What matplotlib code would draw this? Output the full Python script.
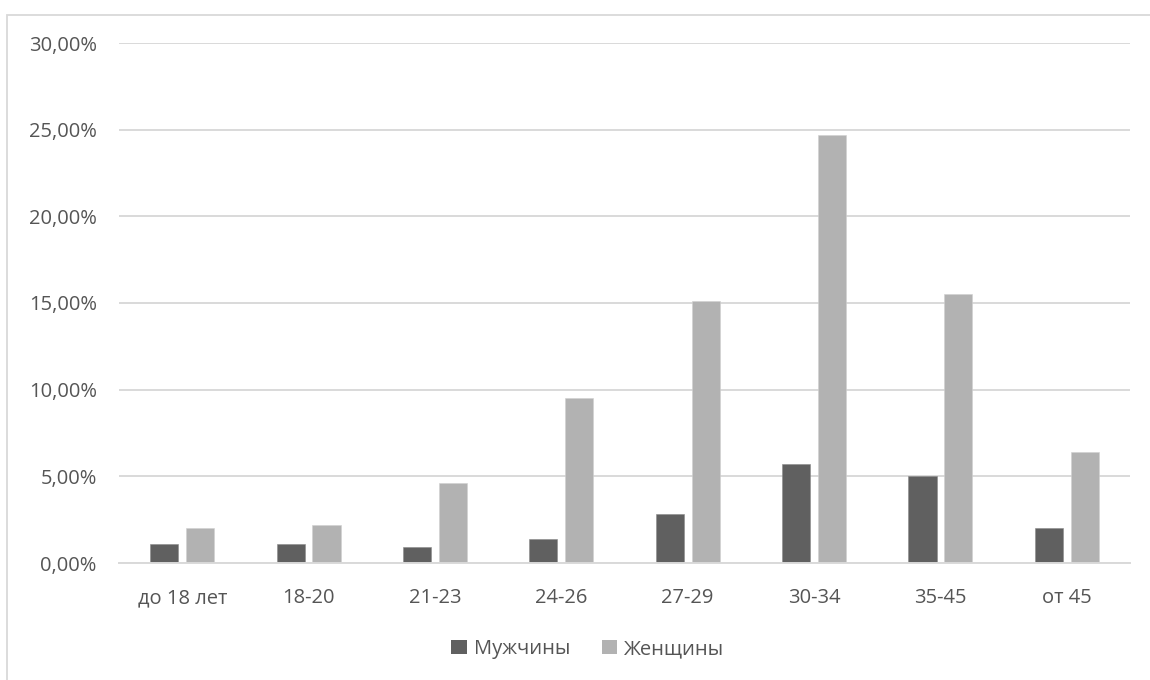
import matplotlib
matplotlib.use("Agg")
import matplotlib.pyplot as plt
from matplotlib.patches import Rectangle, Patch
from matplotlib.ticker import FuncFormatter
import numpy as np

# Age groups and shares (%) by sex
categories = ["до 18 лет", "18-20", "21-23", "24-26", "27-29", "30-34", "35-45", "от 45"]
men = [1.1, 1.1, 0.9, 1.4, 2.8, 5.7, 5.0, 2.0]
women = [2.0, 2.2, 4.6, 9.5, 15.1, 24.7, 15.5, 6.4]
series_names = ["Мужчины", "Женщины"]
yticks = [0, 5, 10, 15, 20, 25, 30]

plt.rcParams["font.family"] = ["Open Sans", "DejaVu Sans"]
TEXT = "#555555"
GRID = "#d9d9d9"
C_MEN = "#606060"
C_WOMEN = "#b2b2b2"

fig = plt.figure(figsize=(11.5, 6.8), dpi=100)
W, H = 1150, 680

# outer chart frame (continues past the right and bottom edges)
fig.patches.append(Rectangle((7 / W, -0.1), 1.2, 1 - 15 / H + 0.1,
                             transform=fig.transFigure, fill=False,
                             edgecolor=GRID, linewidth=1.3))

ax = fig.add_axes([119 / W, 1 - 563 / H, (1130 - 119) / W, (563 - 43) / H])

x = np.arange(len(categories))
bw = 0.222
off = 0.142
ax.bar(x - off, men, width=bw, color=C_MEN, edgecolor="#8a8a8a", linewidth=0.4, zorder=3)
ax.bar(x + off, women, width=bw, color=C_WOMEN, edgecolor="#d0d0d0", linewidth=0.4, zorder=3)

ax.set_xlim(-0.5, len(categories) - 0.5)
ax.set_ylim(0, 30)
ax.set_yticks(yticks)
ax.yaxis.set_major_formatter(FuncFormatter(lambda v, p: f"{v:.2f}%".replace(".", ",")))
ax.set_xticks(x)
ax.set_xticklabels(categories)

ax.grid(axis="y", color=GRID, linewidth=1.4, zorder=0)
ax.set_axisbelow(True)
for s in ("top", "right", "left"):
    ax.spines[s].set_visible(False)
ax.spines["bottom"].set_color(GRID)
ax.spines["bottom"].set_linewidth(1.4)
ax.spines["bottom"].set_zorder(4)

ax.tick_params(axis="both", length=0, labelsize=14.5, colors=TEXT)
ax.tick_params(axis="y", pad=16)
ax.tick_params(axis="x", pad=18)

handles = [Patch(facecolor=C_MEN, edgecolor="none"),
           Patch(facecolor=C_WOMEN, edgecolor="none")]
leg = fig.legend(handles, series_names, loc="center", bbox_to_anchor=(588 / W, 1 - 649 / H),
                 ncol=2, frameon=False, fontsize=14.5, handlelength=0.75, handleheight=0.75,
                 handletextpad=0.35, columnspacing=1.6)
for t in leg.get_texts():
    t.set_color(TEXT)

fig.savefig("out.png", dpi=100, facecolor="white")
